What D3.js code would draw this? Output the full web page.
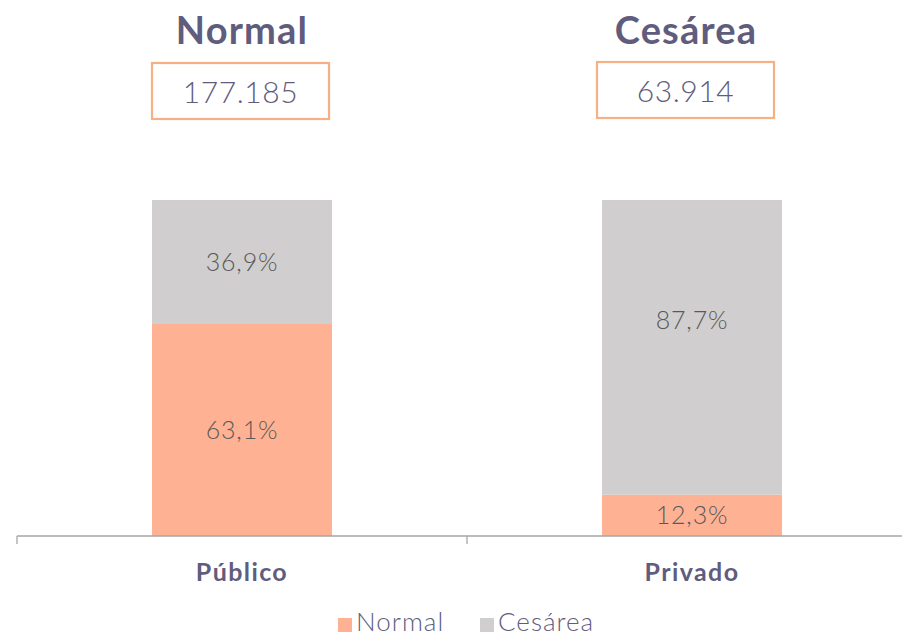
<!DOCTYPE html>
<html><head><meta charset="utf-8">
<script src="https://cdn.jsdelivr.net/npm/d3@7"></script>
<style>
body{margin:0;background:#fff;}
svg{display:block;}
text{font-family:"Century Gothic","URW Gothic",Lato,"Open Sans",sans-serif;}
</style></head>
<body><svg id="c" width="902" height="639"></svg>
<script>
const categories = ["Público","Privado"];
const seriesNames = ["Normal","Cesárea"];
const normalPct = [63.1, 12.3];
const cesareaPct = [36.9, 87.7];
const headerTitles = ["Normal","Cesárea"];
const headerValues = ["177.185","63.914"];

const colors = {"Normal":"#FFB293","Cesárea":"#D0CECE"};
const textCol = "#5F5C7D";
const svg = d3.select("#c");

const x = d3.scaleBand().domain(categories).range([17,917]).paddingInner(0).paddingOuter(0);
const bw = 180;
const y = d3.scaleLinear().domain([0,100]).range([536,200]);

const rows = categories.map((c,i)=>({cat:c, Normal:normalPct[i], "Cesárea":cesareaPct[i]}));
const stack = d3.stack().keys(seriesNames)(rows);

const cx = c => x(c)+x.bandwidth()/2;

stack.forEach(layer=>{
  svg.append("g").selectAll("rect").data(layer).join("rect")
    .attr("x", d=>cx(d.data.cat)-bw/2)
    .attr("width", bw)
    .attr("y", d=>y(d[1]))
    .attr("height", d=>y(d[0])-y(d[1]))
    .attr("fill", colors[layer.key]);
  svg.append("g").selectAll("text").data(layer).join("text")
    .attr("x", d=>cx(d.data.cat))
    .attr("y", d=>{
      const mid=(y(d[0])+y(d[1]))/2;
      return (layer.key==="Cesárea" && d.data.cat==="Privado") ? mid-27 : mid;
    })
    .attr("dy","0.36em")
    .attr("text-anchor","middle")
    .attr("font-size",25).attr("font-weight",300).attr("letter-spacing",0.8)
    .attr("fill","#595959")
    .text(d=>d3.format(".1f")(d[1]-d[0]).replace(".",",")+"%");
});

// axis
const ax = svg.append("g").attr("transform","translate(0,536)");
ax.append("line").attr("x1",17).attr("x2",902).attr("y1",0).attr("y2",0).attr("stroke","#A6A6A6").attr("stroke-width",1.3);
[17,467,917].forEach(t=>{
  ax.append("line").attr("x1",t).attr("x2",t).attr("y1",0).attr("y2",8).attr("stroke","#A6A6A6").attr("stroke-width",1.3);
});
svg.append("g").selectAll("text").data(categories).join("text")
  .attr("x",d=>cx(d)).attr("y",572).attr("dy","0.36em")
  .attr("text-anchor","middle").attr("font-size",25).attr("font-weight",700).attr("letter-spacing",1.4)
  .attr("fill",textCol).text(d=>d);

// headers
const hx = [242, 686];
svg.append("g").selectAll("text").data(headerTitles).join("text")
  .attr("x",(d,i)=>hx[i]).attr("y",30).attr("dy","0.36em")
  .attr("text-anchor","middle").attr("font-size",38).attr("font-weight",700).attr("letter-spacing",1.2)
  .attr("fill",textCol).text(d=>d);
const bx = [[152,63],[597,62]];
svg.append("g").selectAll("rect").data(headerValues).join("rect")
  .attr("x",(d,i)=>bx[i][0]).attr("y",(d,i)=>bx[i][1])
  .attr("width",177).attr("height",56)
  .attr("fill","none").attr("stroke","#F5B183").attr("stroke-width",2.2);
svg.append("g").selectAll("text").data(headerValues).join("text")
  .attr("x",(d,i)=>bx[i][0]+88.5).attr("y",(d,i)=>bx[i][1]+29).attr("dy","0.36em")
  .attr("text-anchor","middle").attr("font-size",30).attr("font-weight",300).attr("letter-spacing",0.6)
  .attr("fill",textCol).text(d=>d);

// legend
const lg = svg.append("g");
const lx = [338, 480];
seriesNames.forEach((s,i)=>{
  lg.append("rect").attr("x",lx[i]).attr("y",618).attr("width",14).attr("height",14).attr("fill",colors[s]);
  lg.append("text").attr("x",lx[i]+18).attr("y",622).attr("dy","0.36em")
    .attr("font-size",26).attr("font-weight",300).attr("letter-spacing",1).attr("fill",textCol).text(s);
});
</script></body></html>
